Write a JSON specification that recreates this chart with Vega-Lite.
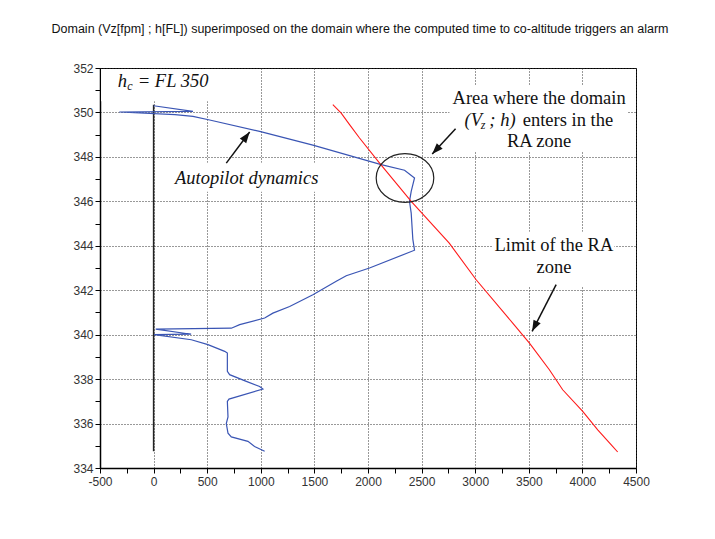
{
  "$schema": "https://vega.github.io/schema/vega-lite/v6.json",
  "width": 536,
  "height": 400,
  "autosize": {"type": "none"},
  "padding": {"left": 100, "top": 68, "right": 79, "bottom": 71},
  "background": "white",
  "title": {
    "text": "Domain (Vz[fpm] ; h[FL]) superimposed on the domain where the computed time to co-altitude triggers an alarm",
    "font": "Liberation Sans",
    "fontSize": 12.5,
    "fontWeight": "normal",
    "color": "#111",
    "anchor": "middle",
    "offset": 27,
    "dx": -8
  },
  "config": {
    "view": {"stroke": "black", "strokeWidth": 1},
    "axis": {"title": null}
  },
  "datasets": {
    "blue": [
      {"i": 1, "x": 1036, "y": 334.75},
      {"i": 2, "x": 942, "y": 334.97},
      {"i": 3, "x": 880, "y": 335.2},
      {"i": 4, "x": 725, "y": 335.4},
      {"i": 5, "x": 694, "y": 335.57},
      {"i": 6, "x": 678, "y": 336.0},
      {"i": 7, "x": 694, "y": 336.3},
      {"i": 8, "x": 688, "y": 337.0},
      {"i": 9, "x": 703, "y": 337.1},
      {"i": 10, "x": 1020, "y": 337.55},
      {"i": 11, "x": 989, "y": 337.67},
      {"i": 12, "x": 865, "y": 337.9},
      {"i": 13, "x": 709, "y": 338.2},
      {"i": 14, "x": 688, "y": 338.35},
      {"i": 15, "x": 688, "y": 339.17},
      {"i": 16, "x": 663, "y": 339.25},
      {"i": 17, "x": 507, "y": 339.55},
      {"i": 18, "x": 352, "y": 339.77},
      {"i": 19, "x": 5, "y": 340.0},
      {"i": 20, "x": 350, "y": 340.02},
      {"i": 21, "x": 20, "y": 340.25},
      {"i": 22, "x": 725, "y": 340.29},
      {"i": 23, "x": 803, "y": 340.45},
      {"i": 24, "x": 1036, "y": 340.75},
      {"i": 25, "x": 1113, "y": 340.97},
      {"i": 26, "x": 1269, "y": 341.27},
      {"i": 27, "x": 1486, "y": 341.8},
      {"i": 28, "x": 1704, "y": 342.4},
      {"i": 29, "x": 1797, "y": 342.65},
      {"i": 30, "x": 2014, "y": 343.0},
      {"i": 31, "x": 2434, "y": 343.8},
      {"i": 32, "x": 2418, "y": 344.3},
      {"i": 33, "x": 2403, "y": 345.47},
      {"i": 34, "x": 2387, "y": 346.0},
      {"i": 35, "x": 2403, "y": 346.45},
      {"i": 36, "x": 2434, "y": 347.05},
      {"i": 37, "x": 2341, "y": 347.4},
      {"i": 38, "x": 2123, "y": 347.65},
      {"i": 39, "x": 1486, "y": 348.53},
      {"i": 40, "x": 989, "y": 349.15},
      {"i": 41, "x": 523, "y": 349.66},
      {"i": 42, "x": 367, "y": 349.82},
      {"i": 43, "x": 200, "y": 349.9},
      {"i": 44, "x": -320, "y": 350.02},
      {"i": 45, "x": 367, "y": 350.05},
      {"i": 46, "x": 0, "y": 350.3}
    ],
    "red": [
      {"i": 1, "x": 1672, "y": 350.35},
      {"i": 2, "x": 1750, "y": 349.97},
      {"i": 3, "x": 1828, "y": 349.45},
      {"i": 4, "x": 1921, "y": 348.85},
      {"i": 5, "x": 2108, "y": 347.72},
      {"i": 6, "x": 2403, "y": 346.0},
      {"i": 7, "x": 2758, "y": 344.12},
      {"i": 8, "x": 3009, "y": 342.47},
      {"i": 9, "x": 3350, "y": 340.52},
      {"i": 10, "x": 3506, "y": 339.62},
      {"i": 11, "x": 3692, "y": 338.42},
      {"i": 12, "x": 3816, "y": 337.52},
      {"i": 13, "x": 4003, "y": 336.55},
      {"i": 14, "x": 4143, "y": 335.72},
      {"i": 15, "x": 4282, "y": 334.97},
      {"i": 16, "x": 4329, "y": 334.72}
    ],
    "zero": [
      {"i": 1, "x": 0, "y": 334.75},
      {"i": 2, "x": 0, "y": 350.35}
    ],
    "boxes": [
      {"x": -490, "x2": 560, "y": 350.5, "y2": 351.95},
      {"x": 2760, "x2": 4420, "y": 348.25, "y2": 351.2},
      {"x": 169, "x2": 1567, "y": 346.43, "y2": 347.74},
      {"x": 3161, "x2": 4298, "y": 342.16, "y2": 344.63}
    ],
    "ellipse": [{"x": 2345, "y": 347.05}],
    "arrowA": [{"x": 678, "y": 347.72, "x2": 896, "y2": 349.12}],
    "arrowB": [{"x": 2817, "y": 349.27, "x2": 2599, "y2": 348.13}],
    "arrowC": [{"x": 3755, "y": 342.25, "x2": 3531, "y2": 340.15}],
    "serifCenter": [
      {"x": 3596, "y": 350.38, "label": "Area where the domain"},
      {"x": 3596, "y": 348.43, "label": "RA zone"},
      {"x": 3734, "y": 343.75, "label": "Limit of the RA"},
      {"x": 3734, "y": 342.77, "label": "zone"}
    ],
    "serifLeft": [{"x": 3443, "y": 349.4, "label": "enters in the"}],
    "italicLeft": [
      {"x": -335, "y": 351.16, "label": "h"},
      {"x": -148, "y": 351.16, "label": "= FL 350"},
      {"x": 2900, "y": 349.4, "label": "(V"},
      {"x": 3132, "y": 349.4, "label": "; h)"}
    ],
    "italicSub": [
      {"x": -246, "y": 351.0, "label": "c"},
      {"x": 3052, "y": 349.27, "label": "z"}
    ],
    "italicCenter": [{"x": 868, "y": 346.78, "label": "Autopilot dynamics"}]
  },
  "encoding": {
    "x": {
      "field": "x",
      "type": "quantitative",
      "scale": {"domain": [-500, 4500], "nice": false, "zero": false},
      "axis": {
        "values": [-500, -250, 0, 250, 500, 750, 1000, 1250, 1500, 1750, 2000, 2250, 2500, 2750, 3000, 3250, 3500, 3750, 4000, 4250, 4500],
        "labelExpr": "datum.value % 500 === 0 ? '' + datum.value : ''",
        "grid": true,
        "gridDash": [1, 2],
        "gridColor": "#333",
        "gridOpacity": {"condition": {"test": "datum.value % 500 !== 0", "value": 0}, "value": 1},
        "domainColor": "black",
        "domainWidth": 1.5,
        "tickColor": "black",
        "tickSize": 5,
        "tickWidth": 1,
        "labelFont": "Liberation Sans",
        "labelFontSize": 12,
        "labelColor": "#333",
        "labelPadding": 3,
        "labelFlush": false,
        "labelOverlap": false
      }
    },
    "y": {
      "field": "y",
      "type": "quantitative",
      "scale": {"domain": [334, 352], "nice": false, "zero": false},
      "axis": {
        "values": [334, 335, 336, 337, 338, 339, 340, 341, 342, 343, 344, 345, 346, 347, 348, 349, 350, 351, 352],
        "labelExpr": "datum.value % 2 === 0 ? '' + datum.value : ''",
        "grid": true,
        "gridDash": [1, 2],
        "gridColor": "#333",
        "gridOpacity": {"condition": {"test": "datum.value % 2 !== 0", "value": 0}, "value": 1},
        "domainColor": "black",
        "domainWidth": 1.5,
        "tickColor": "black",
        "tickSize": 5,
        "tickWidth": 1,
        "labelFont": "Liberation Sans",
        "labelFontSize": 12,
        "labelColor": "#333",
        "labelPadding": 2,
        "labelFlush": false,
        "labelOverlap": false
      }
    }
  },
  "layer": [
    {
      "data": {"name": "boxes"},
      "mark": {"type": "rect", "color": "white", "opacity": 1},
      "encoding": {"x2": {"field": "x2"}, "y2": {"field": "y2"}}
    },
    {
      "data": {"name": "zero"},
      "mark": {"type": "line", "color": "#222", "strokeWidth": 1.5},
      "encoding": {"order": {"field": "i", "type": "quantitative"}}
    },
    {
      "data": {"name": "blue"},
      "mark": {"type": "line", "color": "#3a55b4", "strokeWidth": 1.2},
      "encoding": {"order": {"field": "i", "type": "quantitative"}}
    },
    {
      "data": {"name": "red"},
      "mark": {"type": "line", "color": "#ff1a1a", "strokeWidth": 1.1},
      "encoding": {"order": {"field": "i", "type": "quantitative"}}
    },
    {
      "data": {"name": "ellipse"},
      "mark": {"type": "point", "shape": "M-1,0A1,0.845,0,1,1,1,0A1,0.845,0,1,1,-1,0Z", "size": 3318, "filled": false, "stroke": "#222", "strokeWidth": 1.2, "opacity": 1}
    },
    {
      "data": {"name": "arrowA"},
      "layer": [
        {"mark": {"type": "rule", "color": "#111", "strokeWidth": 1.5}, "encoding": {"x2": {"field": "x2"}, "y2": {"field": "y2"}}},
        {"mark": {"type": "point", "shape": "M0,0L-0.4,1.1L0.4,1.1Z", "size": 400, "filled": true, "color": "#111", "opacity": 1, "angle": 37}, "encoding": {"x": {"field": "x2", "type": "quantitative"}, "y": {"field": "y2", "type": "quantitative"}}}
      ]
    },
    {
      "data": {"name": "arrowB"},
      "layer": [
        {"mark": {"type": "rule", "color": "#111", "strokeWidth": 1.5}, "encoding": {"x2": {"field": "x2"}, "y2": {"field": "y2"}}},
        {"mark": {"type": "point", "shape": "M0,0L-0.4,1.1L0.4,1.1Z", "size": 400, "filled": true, "color": "#111", "opacity": 1, "angle": 223}, "encoding": {"x": {"field": "x2", "type": "quantitative"}, "y": {"field": "y2", "type": "quantitative"}}}
      ]
    },
    {
      "data": {"name": "arrowC"},
      "layer": [
        {"mark": {"type": "rule", "color": "#111", "strokeWidth": 1.5}, "encoding": {"x2": {"field": "x2"}, "y2": {"field": "y2"}}},
        {"mark": {"type": "point", "shape": "M0,0L-0.4,1.1L0.4,1.1Z", "size": 400, "filled": true, "color": "#111", "opacity": 1, "angle": 207}, "encoding": {"x": {"field": "x2", "type": "quantitative"}, "y": {"field": "y2", "type": "quantitative"}}}
      ]
    },
    {
      "data": {"name": "serifCenter"},
      "mark": {"type": "text", "font": "Liberation Serif", "fontSize": 18.5, "align": "center", "baseline": "alphabetic", "color": "#111"},
      "encoding": {"text": {"field": "label"}}
    },
    {
      "data": {"name": "serifLeft"},
      "mark": {"type": "text", "font": "Liberation Serif", "fontSize": 18.5, "align": "left", "baseline": "alphabetic", "color": "#111"},
      "encoding": {"text": {"field": "label"}}
    },
    {
      "data": {"name": "italicLeft"},
      "mark": {"type": "text", "font": "Liberation Serif", "fontStyle": "italic", "fontSize": 18.5, "align": "left", "baseline": "alphabetic", "color": "#111"},
      "encoding": {"text": {"field": "label"}}
    },
    {
      "data": {"name": "italicSub"},
      "mark": {"type": "text", "font": "Liberation Serif", "fontStyle": "italic", "fontSize": 12, "align": "left", "baseline": "alphabetic", "color": "#111"},
      "encoding": {"text": {"field": "label"}}
    },
    {
      "data": {"name": "italicCenter"},
      "mark": {"type": "text", "font": "Liberation Serif", "fontStyle": "italic", "fontSize": 18.5, "align": "center", "baseline": "alphabetic", "color": "#111"},
      "encoding": {"text": {"field": "label"}}
    }
  ]
}
